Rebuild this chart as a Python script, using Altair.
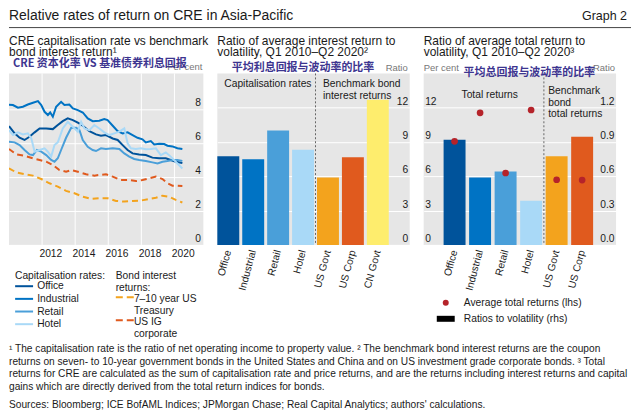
import altair as alt
import pandas as pd

FONT = "Liberation Sans"
CJK = "Noto Sans CJK SC"
INK = "#1a1a1a"
BG = "#e6e6e6"
PURPLE = "#3d3590"

# ---------------- Panel 1: cap rates vs bond returns (per cent) ----------------
office_t = [2010.00, 2010.34, 2010.64, 2010.94, 2011.24, 2011.55, 2011.85, 2012.25, 2012.65, 2012.95,
            2013.25, 2013.55, 2013.86, 2014.16, 2014.46, 2014.86, 2015.26, 2015.56, 2015.86, 2016.27,
            2016.57, 2016.87, 2017.17, 2017.47, 2017.87, 2018.27, 2018.67, 2019.08, 2019.48, 2019.78,
            2020.08, 2020.48]
office_v = [7.00, 6.57, 6.31, 6.18, 6.37, 6.63, 6.86, 6.86, 6.82, 7.06,
            7.29, 7.45, 7.35, 7.20, 7.02, 6.70, 6.51, 6.43, 6.47, 6.27,
            6.18, 5.88, 5.59, 5.39, 5.33, 5.29, 5.14, 5.10, 5.10, 5.00,
            4.90, 4.82]

industrial_t = [2010.00, 2010.24, 2010.54, 2010.84, 2011.14, 2011.45, 2011.75, 2011.95, 2012.15, 2012.35,
                2012.49, 2012.65, 2012.85, 2013.15, 2013.35, 2013.65, 2013.86, 2014.16, 2014.46, 2014.76,
                2015.06, 2015.46, 2015.76, 2015.96, 2016.27, 2016.57, 2016.87, 2017.17, 2017.47, 2017.77,
                2018.07, 2018.27, 2018.57, 2018.78, 2019.08, 2019.38, 2019.58, 2019.88, 2020.18, 2020.48]
industrial_v = [8.25, 8.24, 8.08, 8.14, 8.27, 8.37, 8.47, 8.24, 7.84, 7.65,
                7.80, 7.55, 8.14, 8.43, 8.24, 8.27, 8.04, 7.94, 7.80, 7.45,
                7.29, 7.31, 7.41, 7.35, 7.02, 6.70, 6.57, 6.63, 6.47, 6.31,
                6.22, 6.04, 6.12, 5.92, 5.96, 5.94, 5.84, 5.80, 5.69, 5.65]

retail_t = [2010.00, 2010.34, 2010.64, 2010.94, 2011.24, 2011.45, 2011.69, 2011.95, 2012.25, 2012.55,
            2012.75, 2012.95, 2013.15, 2013.45, 2013.76, 2014.06, 2014.26, 2014.46, 2014.76, 2015.06,
            2015.26, 2015.56, 2015.86, 2016.27, 2016.67, 2016.97, 2017.27, 2017.57, 2017.87, 2018.27,
            2018.67, 2018.98, 2019.28, 2019.58, 2019.88, 2020.18, 2020.48]
retail_v = [6.08, 6.04, 5.88, 5.59, 5.33, 5.29, 5.59, 5.49, 5.29, 5.00,
            4.90, 5.10, 5.59, 6.31, 6.90, 6.90, 6.76, 6.18, 5.78, 5.59,
            5.53, 5.69, 5.65, 5.69, 5.65, 5.39, 5.20, 5.06, 5.00, 4.94,
            4.86, 4.80, 4.90, 4.94, 5.00, 5.00, 4.95]

hotel_t = [2010.00, 2010.24, 2010.54, 2010.84, 2011.14, 2011.35, 2011.55, 2011.85, 2012.15, 2012.35,
           2012.55, 2012.75, 2012.95, 2013.25, 2013.55, 2013.86, 2014.16, 2014.36, 2014.56, 2014.86,
           2015.16, 2015.46, 2015.76, 2016.06, 2016.37, 2016.67, 2016.97, 2017.17, 2017.37, 2017.67,
           2017.97, 2018.27, 2018.57, 2018.88, 2019.18, 2019.48, 2019.78, 2020.08, 2020.48]
hotel_v = [6.76, 6.47, 6.63, 6.51, 6.57, 6.27, 5.49, 5.59, 5.69, 5.49,
           5.20, 5.88, 6.04, 6.86, 7.25, 6.96, 6.67, 7.25, 6.86, 6.76,
           7.06, 6.86, 6.63, 6.47, 6.57, 6.67, 6.86, 5.98, 5.69, 5.65,
           5.69, 5.63, 5.65, 5.69, 5.29, 5.45, 5.20, 4.90, 4.50]

usig_t = [2010.00, 2010.44, 2010.94, 2011.45, 2011.85, 2012.25, 2012.65, 2013.05, 2013.45, 2013.76,
          2014.16, 2014.66, 2015.16, 2015.46, 2015.86, 2016.27, 2016.77, 2017.27, 2017.67, 2018.07,
          2018.47, 2018.88, 2019.28, 2019.58, 2019.88, 2020.18, 2020.48]
usig_v = [5.65, 5.33, 5.25, 5.10, 5.00, 4.90, 4.71, 4.41, 4.31, 4.41,
          4.31, 4.16, 4.08, 4.12, 4.16, 4.02, 3.82, 3.82, 3.76, 3.82,
          3.92, 4.02, 3.88, 3.63, 3.49, 3.49, 3.47]

ust_t = [2010.00, 2010.44, 2010.94, 2011.45, 2011.95, 2012.45, 2012.95, 2013.45, 2013.96, 2014.46,
         2014.96, 2015.46, 2015.96, 2016.47, 2016.97, 2017.47, 2017.97, 2018.47, 2018.88, 2019.28,
         2019.68, 2020.08, 2020.48]
ust_v = [4.51, 4.27, 4.16, 4.08, 3.88, 3.63, 3.43, 3.18, 3.04, 2.84,
         2.71, 2.75, 2.75, 2.59, 2.55, 2.59, 2.61, 2.71, 2.78, 2.90,
         2.84, 2.65, 2.50]

cap_names = ["Office", "Industrial", "Retail", "Hotel"]
cap_colors = ["#00539b", "#0073c4", "#4a9fd9", "#a9d9f7"]
bond_names = ["7–10 year US Treasury", "US IG corporate"]
bond_colors = ["#f3a31d", "#e05a1e"]
year_grid = [2012, 2014, 2016, 2018, 2020]           # vertical gridlines (start of year)
year_labels = [2012.5, 2014.5, 2016.5, 2018.5, 2020.5]  # year labels sit mid-year
p1_ticks = [0, 2, 4, 6, 8]

# ---------------- Panel 2: interest return / volatility (ratio) ----------------
p2_cats = ["Office", "Industrial", "Retail", "Hotel", "US Govt", "US Corp", "CN Govt"]
p2_vals = [7.75, 7.50, 10.00, 8.33, 5.90, 7.66, 12.70]
p2_colors = ["#00539b", "#0073c4", "#4a9fd9", "#a9d9f7", "#f3a31d", "#e05a1e", "#feed6d"]
p2_ticks = [0, 3, 6, 9, 12]

# ---------------- Panel 3: total return / volatility ----------------
p3_cats = ["Office", "Industrial", "Retail", "Hotel", "US Govt", "US Corp"]
p3_ratio = [0.92, 0.59, 0.643, 0.386, 0.775, 0.947]
p3_return = [9.06, 11.55, 6.29, 11.80, 5.70, 5.67]
p3_colors = ["#00539b", "#0073c4", "#4a9fd9", "#a9d9f7", "#f3a31d", "#e05a1e"]
p3_left_ticks = [0, 3, 6, 9, 12]
p3_right_ticks = [0, 0.3, 0.6, 0.9, 1.2]
leg3 = ["Average total returns (lhs)", "Ratios to volatility (rhs)"]

main_title = "Relative rates of return on CRE in Asia-Pacific"
graph_no = "Graph 2"
p1_title = ["CRE capitalisation rate vs benchmark", "bond interest return¹"]
p2_title = ["Ratio of average interest return to", "volatility, Q1 2010–Q2 2020²"]
p3_title = ["Ratio of average total return to", "volatility, Q1 2010–Q2 2020³"]
footnotes = [
    "¹ The capitalisation rate is the ratio of net operating income to property value.  ² The benchmark bond interest returns are the coupon",
    "returns on seven- to 10-year government bonds in the United States and China and on US investment grade corporate bonds.  ³ Total",
    "returns for CRE are calculated as the sum of capitalisation rate and price returns, and are the returns including interest returns and capital",
    "gains which are directly derived from the total return indices for bonds.",
]
sources = "Sources: Bloomberg; ICE BofAML Indices; JPMorgan Chase; Real Capital Analytics; authors' calculations."

W1, W2, W3, H = 195, 193, 193, 172
ONE = pd.DataFrame({"k": [0]})


def long_df(pairs):
    rows = []
    for name, ts, vs in pairs:
        for t, v in zip(ts, vs):
            rows.append({"series": name, "t": t, "v": v})
    return pd.DataFrame(rows)


def txt(s, x, y, size=10.3, align="left", baseline="middle", color=INK, font=FONT, weight="normal"):
    return alt.Chart(ONE).mark_text(
        text=s, align=align, baseline=baseline, fontSize=size, color=color, font=font, fontWeight=weight
    ).encode(x=alt.value(x), y=alt.value(y))


def title_marks(lines):
    return [txt(lines[0], 0, -33, size=12), txt(lines[1], 0, -21, size=12)]


def right_axis(values, fmt=None, offset=-3):
    kw = dict(orient="right", values=values, grid=True, gridColor="white", gridWidth=1, domain=False,
              ticks=False, tickSize=0, labelAlign="right", labelBaseline="bottom", labelOffset=-1.5,
              labelPadding=0, offset=offset, title=None, labelFontSize=10.3, labelColor=INK)
    if fmt:
        kw["format"] = fmt
    return alt.Axis(**kw)


# ---------- Panel 1 ----------
cap_df = long_df([(cap_names[0], office_t, office_v), (cap_names[1], industrial_t, industrial_v),
                  (cap_names[2], retail_t, retail_v), (cap_names[3], hotel_t, hotel_v)])
bond_df = long_df([(bond_names[0], ust_t, ust_v), (bond_names[1], usig_t, usig_v)])
grid_df = pd.DataFrame({"t": year_grid})

x1 = alt.X("t:Q", scale=alt.Scale(domain=[2010, 2021.75], nice=False, zero=False),
           axis=alt.Axis(values=year_labels, labelExpr="floor(datum.value)", grid=False, domain=False,
                         ticks=False, tickSize=0, labelFlush=False, labelPadding=4, labelOverlap=False,
                         title=None, labelFontSize=10.3, labelColor=INK))
y1 = alt.Y("v:Q", scale=alt.Scale(domain=[0, 10.1], nice=False), axis=right_axis(p1_ticks, offset=-3))

leg_common = dict(orient="none", symbolSize=64, symbolStrokeWidth=2, symbolOffset=4,
                  labelFont=FONT, labelFontSize=10.3, labelColor=INK, titleFont=FONT, titleFontSize=10.3,
                  titleFontWeight="normal", titleColor=INK)

vgrid = alt.Chart(grid_df).mark_rule(color="white", strokeWidth=1).encode(x=x1)
bond_lines = alt.Chart(bond_df).mark_line(strokeWidth=2, strokeDash=[6, 4], clip=True).encode(
    x=x1, y=y1,
    color=alt.Color("series:N", scale=alt.Scale(domain=bond_names, range=bond_colors),
                    legend=alt.Legend(title=["Bond interest", "returns:"], legendX=107, legendY=198,
                                      symbolType="M-2.25,-0.45H2.25", symbolDash=[7, 4], rowPadding=-2,
                                      titleLineHeight=12, titlePadding=1, labelOffset=4,
                                      labelExpr="datum.label == '7–10 year US Treasury' ? ['7–10 year US', 'Treasury'] : ['US IG', 'corporate']",
                                      **leg_common)),
)
cap_lines = alt.Chart(cap_df).mark_line(strokeWidth=2, clip=True).encode(
    x=x1, y=y1,
    color=alt.Color("series:N", scale=alt.Scale(domain=cap_names, range=cap_colors),
                    legend=alt.Legend(title="Capitalisation rates:", legendX=6, legendY=198,
                                      symbolType="M-2.25,0H2.25", rowPadding=1.7, titlePadding=0,
                                      labelOffset=8, **leg_common)),
)

foot_y = [276, 289, 302, 315]
p1 = alt.layer(
    vgrid, bond_lines, cap_lines,
    txt("Per cent", 194, -6, size=9.5, align="right", color="#777777"),
    txt("CRE 资本化率 VS 基准债券利息回报", 4, -9, size=11, font=CJK, color=PURPLE, weight="bold"),
    *title_marks(p1_title),
    # page header
    txt(main_title, 0, -58, size=14),
    txt(graph_no, 620, -58, size=12.5, align="right"),
    alt.Chart(ONE).mark_rule(color="#444444", strokeWidth=1).encode(
        x=alt.value(0), x2=alt.value(624), y=alt.value(-46)),
    # footnotes
    *[txt(s, 0, y, size=10.2) for s, y in zip(footnotes, foot_y)],
    txt(sources, 0, 333, size=10.2),
).resolve_scale(color="independent").properties(
    width=W1, height=H, view=alt.ViewBackground(fill=BG, strokeWidth=0),
)

# ---------- Panel 2 ----------
df2 = pd.DataFrame({"cat": p2_cats, "val": p2_vals})
x_axis_cat = alt.Axis(labelAngle=285, labelPadding=5, domain=False, ticks=False, grid=False, title=None,
                      labelFontSize=10.3, labelColor=INK)
bars2 = alt.Chart(df2).mark_bar().encode(
    x=alt.X("cat:N", sort=p2_cats, scale=alt.Scale(paddingInner=0.12, paddingOuter=0.42, align=0),
            axis=x_axis_cat),
    y=alt.Y("val:Q", scale=alt.Scale(domain=[0, 15], nice=False), axis=right_axis(p2_ticks, offset=-2)),
    color=alt.Color("cat:N", scale=alt.Scale(domain=p2_cats, range=p2_colors), legend=None),
)
sep2 = alt.Chart(ONE).mark_rule(color="#666666", strokeWidth=1, strokeDash=[2, 2]).encode(
    x=alt.value(98.5), y=alt.value(0), y2=alt.value(H))
p2 = alt.layer(
    bars2, sep2,
    txt("Capitalisation rates", 7, 11),
    txt("Benchmark bond", 106, 11),
    txt("interest returns", 106, 23),
    txt("Ratio", 191, -5, size=9.5, align="right", color="#777777"),
    txt("平均利息回报与波动率的比率", 86, -5, size=11, align="center", font=CJK, color=PURPLE, weight="bold"),
    *title_marks(p2_title),
).properties(width=W2, height=H, view=alt.ViewBackground(fill=BG, strokeWidth=0))

# ---------- Panel 3 ----------
df3 = pd.DataFrame({"cat": p3_cats, "ratio": p3_ratio, "ret": p3_return, "leg": leg3[0]})
x3 = alt.X("cat:N", sort=p3_cats, scale=alt.Scale(paddingInner=0.14, paddingOuter=0.84, align=0.465),
           axis=x_axis_cat)
bars3 = alt.Chart(df3).mark_bar().encode(
    x=x3,
    y=alt.Y("ratio:Q", scale=alt.Scale(domain=[0, 1.5], nice=False),
            axis=right_axis(p3_right_ticks, fmt=".1f", offset=-2)),
    color=alt.Color("cat:N", scale=alt.Scale(domain=p3_cats, range=p3_colors), legend=None),
)
dots3 = alt.Chart(df3).mark_point(filled=True, size=45, opacity=1).encode(
    x=x3,
    y=alt.Y("ret:Q", scale=alt.Scale(domain=[0, 15], nice=False),
            axis=alt.Axis(orient="left", values=p3_left_ticks, grid=False, domain=False, ticks=False,
                          tickSize=0, labelAlign="left", labelBaseline="bottom", labelOffset=-1.5,
                          labelPadding=0, offset=-1, title=None, labelFontSize=10.3, labelColor=INK)),
    color=alt.Color("leg:N", scale=alt.Scale(domain=leg3, range=["#b5232a", "#000000"]),
                    legend=alt.Legend(orient="none", legendX=10, legendY=225, title=None, symbolSize=36,
                                      symbolOffset=7, labelOffset=13, rowPadding=5, symbolStrokeWidth=0,
                                      labelFont=FONT, labelFontSize=10.3, labelColor=INK)),
    shape=alt.Shape("leg:N", scale=alt.Scale(domain=leg3, range=["circle", "M-3,-1H3V1H-3Z"])),
)
sep3 = alt.Chart(ONE).mark_rule(color="#666666", strokeWidth=1, strokeDash=[2, 2]).encode(
    x=alt.value(120.6), y=alt.value(0), y2=alt.value(H))
p3 = alt.layer(
    bars3, dots3, sep3,
    txt("Total returns", 38, 22),
    txt("Benchmark", 125, 18),
    txt("bond", 125, 29.5),
    txt("total returns", 125, 41),
    txt("Per cent", 0, -5, size=9.5, color="#777777"),
    txt("Ratio", 192, -5, size=9.5, align="right", color="#777777"),
    txt("平均总回报与波动率的比率", 106, 0, size=11, align="center", font=CJK, color=PURPLE, weight="bold"),
    *title_marks(p3_title),
).resolve_scale(y="independent", color="independent", shape="independent").properties(
    width=W3, height=H, view=alt.ViewBackground(fill=BG, strokeWidth=0),
)

chart = alt.hconcat(p1, p2, p3, spacing=14, bounds="flush").properties(
    padding=0
).configure(font=FONT).configure_view(strokeWidth=0)

chart.save("out.html", embed_options={"renderer": "svg", "actions": False})
